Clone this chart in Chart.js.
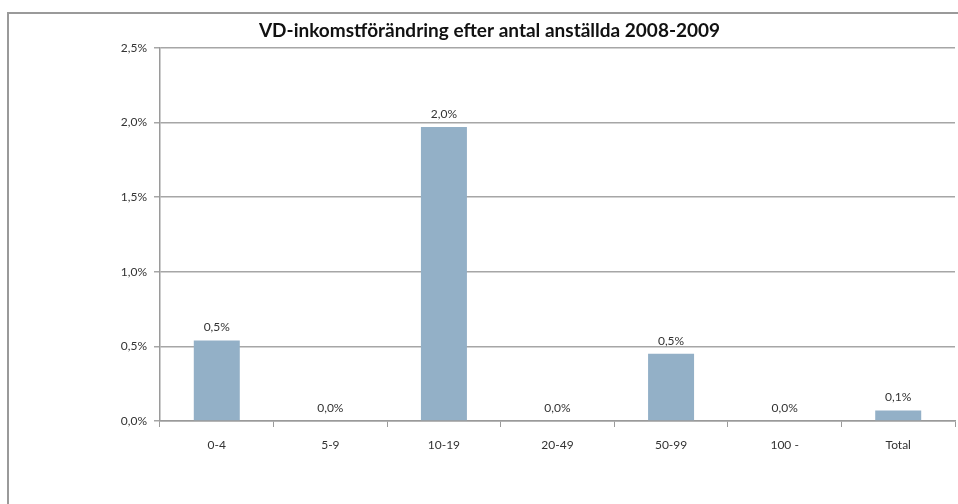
<!DOCTYPE html>
<html>
<head>
<meta charset="utf-8">
<script src="https://cdn.jsdelivr.net/npm/chart.js@4/dist/chart.umd.min.js"></script>
<style>
  html, body { margin: 0; padding: 0; background: #fff; }
  #wrap { width: 958px; height: 504px; position: relative; }
</style>
</head>
<body>
<div id="wrap"><canvas id="incomeChart" width="958" height="504"></canvas></div>
<script>
// data (percent)
const categories = ['0-4', '5-9', '10-19', '20-49', '50-99', '100 -', 'Total'];
const changeValues = [0.54, 0, 1.97, 0, 0.45, 0, 0.07];
const yTicks = [0, 0.5, 1.0, 1.5, 2.0, 2.5];

const fmt = v => v.toFixed(1).replace('.', ',') + '%';

// outer frame (top and left edge) like the excel chart box
const framePlugin = {
    id: 'frame',
    beforeDraw(chart) {
        const c = chart.ctx;
        c.save();
        c.strokeStyle = '#9a9a9a';
        c.lineWidth = 2;
        c.beginPath();
        c.moveTo(chart.width, 13);
        c.lineTo(8, 13);
        c.lineTo(8, chart.height);
        c.stroke();
        c.restore();
    }
};

// value labels above bars
const valueLabels = {
    id: 'valueLabels',
    afterDatasetsDraw(chart) {
        const c = chart.ctx;
        const meta = chart.getDatasetMeta(0);
        c.save();
        c.font = '12px Lato, sans-serif';
        c.fillStyle = '#333';
        c.textAlign = 'center';
        c.textBaseline = 'bottom';
        meta.data.forEach((bar, i) => {
            c.fillText(fmt(changeValues[i]), bar.x, bar.y - 7);
        });
        c.restore();
    }
};

new Chart(document.getElementById('incomeChart'), {
    type: 'bar',
    data: {
        labels: categories,
        datasets: [{
            data: changeValues,
            backgroundColor: '#93b0c7',
            barPercentage: 0.405,
            categoryPercentage: 1.0
        }]
    },
    options: {
        responsive: false,
        animation: false,
        layout: { padding: { top: 0, right: 3, bottom: 0, left: 24 } },
        plugins: {
            legend: { display: false },
            tooltip: { enabled: false },
            title: {
                display: true,
                text: 'VD-inkomstförändring efter antal anställda 2008-2009',
                color: '#111',
                font: { family: 'Lato, sans-serif', size: 19, weight: 'bold' },
                padding: { top: 19, bottom: 6 }
            }
        },
        scales: {
            x: {
                grid: { display: true, offset: true, drawOnChartArea: false, tickLength: 6, color: '#9a9a9a' },
                border: { color: '#9a9a9a', width: 1.5 },
                ticks: { color: '#333', font: { family: 'Lato, sans-serif', size: 12 }, padding: 11 },
                afterFit: s => { s.height = 83; }
            },
            y: {
                min: 0,
                max: 2.5,
                afterBuildTicks: s => { s.ticks = yTicks.map(v => ({ value: v })); },
                grid: { color: '#a6a6a6', lineWidth: 1.5, tickLength: 6 },
                border: { color: '#9a9a9a', width: 1.5 },
                ticks: { color: '#333', font: { family: 'Lato, sans-serif', size: 12 }, padding: 7, callback: v => fmt(v) },
                afterFit: s => { s.width = 136; }
            }
        }
    },
    plugins: [framePlugin, valueLabels]
});
</script>
</body>
</html>
